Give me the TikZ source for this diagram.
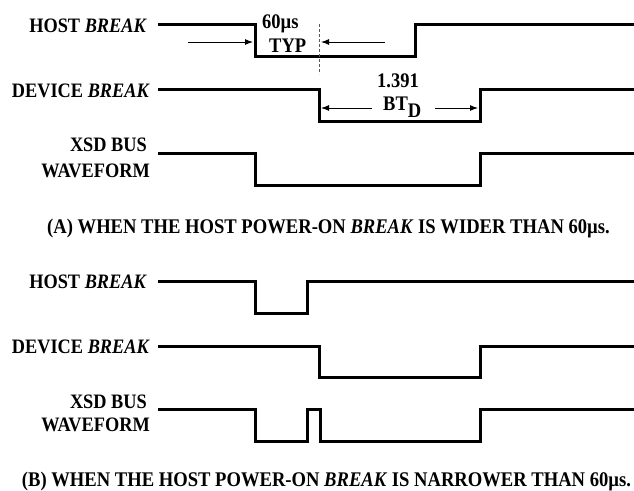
\documentclass[tikz,border=0pt]{standalone}
\usepackage{fontspec}
\setmainfont{Liberation Serif}
\usetikzlibrary{arrows.meta}
\newcommand{\tallt}[1]{\scalebox{1}[1.12]{#1}}
\tikzset{
  wave/.style={line width=3pt, line join=miter, line cap=butt},
  lbl/.style={anchor=base east, inner sep=0pt, font=\bfseries\fontsize{18.3}{20}\selectfont},
  txt/.style={anchor=base west, inner sep=0pt, font=\bfseries\fontsize{18.5}{20}\selectfont},
  captxt/.style={anchor=base, inner sep=0pt, font=\bfseries\fontsize{18.6}{20}\selectfont},
  dim/.style={line width=1pt, -{Latex[length=8pt,width=6pt]}},
  guide/.style={line width=0.8pt, dash pattern=on 3pt off 2pt, gray!70!black}
}
\begin{document}
\begin{tikzpicture}[x=1pt,y=-1pt]
\useasboundingbox (0,0) rectangle (634,490);
% ---- Part A ----
\node[lbl] (ha) at (147,32) {\tallt{HOST \textit{BREAK}}};
\node[lbl] (da) at (150,97) {\tallt{DEVICE \textit{BREAK}}};
\node[lbl] (xa1) at (147,151) {\tallt{XSD BUS}};
\node[lbl] (xa2) at (150,177) {\tallt{WAVEFORM}};
\draw[wave] (158,24) -- (255,24) -- (255,56) -- (415,56) -- (415,24) -- (634,24);
\draw[wave] (158,89) -- (319,89) -- (319,121) -- (480,121) -- (480,89) -- (634,89);
\draw[wave] (158,153) -- (255,153) -- (255,185) -- (480,185) -- (480,153) -- (634,153);
\node[txt] (t60) at (262,28) {\tallt{60µs}};
\node[txt] (typ) at (269,52) {\tallt{TYP}};
\coordinate (a1s) at (188,42);
\coordinate (a1e) at (253,42);
\coordinate (a2s) at (385,42);
\coordinate (a2e) at (321,42);
\draw[dim] (a1s) -- (a1e);
\draw[dim] (a2s) -- (a2e);
\coordinate (g1) at (319,24);
\coordinate (g2) at (319,74);
\draw[guide] (g1) -- (g2);
\node[txt] (n139) at (377,87) {\tallt{1.391}};
\node[txt] (btd) at (383,110) {\tallt{BT\raisebox{-7pt}{D}}};
\coordinate (b1s) at (372,108);
\coordinate (b1e) at (321,108);
\coordinate (b2s) at (435,108);
\coordinate (b2e) at (478,108);
\draw[dim] (b1s) -- (b1e);
\draw[dim] (b2s) -- (b2e);
\node[captxt] (capa) at (328.5,233) {\tallt{(A) WHEN THE HOST POWER-ON \textit{BREAK} IS WIDER THAN 60µs.}};
% ---- Part B ----
\node[lbl] (hb) at (147,288) {\tallt{HOST \textit{BREAK}}};
\node[lbl] (db) at (150,353.5) {\tallt{DEVICE \textit{BREAK}}};
\node[lbl] (xb1) at (147,408.5) {\tallt{XSD BUS}};
\node[lbl] (xb2) at (150,431.5) {\tallt{WAVEFORM}};
\draw[wave] (158,281) -- (255,281) -- (255,313) -- (307,313) -- (307,281) -- (634,281);
\draw[wave] (158,346) -- (319,346) -- (319,377) -- (480,377) -- (480,346) -- (634,346);
\draw[wave] (158,409) -- (255,409) -- (255,441) -- (307,441) -- (307,409) -- (320,409) -- (320,441) -- (480,441) -- (480,409) -- (634,409);
\node[captxt] (capb) at (326.5,486.5) {\tallt{(B) WHEN THE HOST POWER-ON \textit{BREAK} IS NARROWER THAN 60µs.}};
\end{tikzpicture}
\end{document}
